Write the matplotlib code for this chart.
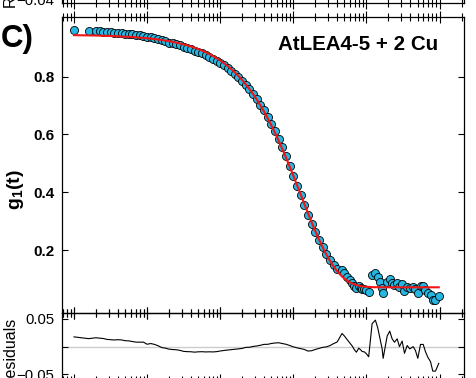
import matplotlib
matplotlib.use('Agg')
import matplotlib.pyplot as plt
import numpy as np
from matplotlib.ticker import LogLocator, NullFormatter

plt.rcParams['font.family'] = ['Liberation Sans', 'DejaVu Sans']
plt.rcParams['mathtext.fontset'] = 'custom'
plt.rcParams['mathtext.rm'] = 'Liberation Sans'
plt.rcParams['mathtext.bf'] = 'Liberation Sans:bold'

# ---------------- data ----------------
lag_time = [1.0, 1.585, 1.995, 2.239, 2.512, 2.818, 3.162, 3.548, 3.981, 4.467,
            5.012, 5.623, 6.310, 7.079, 7.943, 8.913, 10.0, 11.22, 12.59, 14.13,
            15.85, 17.78, 19.95, 22.39, 25.12, 28.18, 31.62, 35.48, 39.81, 44.67,
            50.12, 56.23, 63.10, 70.79, 79.43, 89.13, 100.0, 112.2, 125.9, 141.3,
            158.5, 177.8, 199.5, 223.9, 251.2, 281.8, 316.2, 354.8, 398.1, 446.7,
            501.2, 562.3, 631.0, 707.9, 794.3, 891.3, 1000, 1122, 1259, 1413,
            1585, 1778, 1995, 2239, 2512, 2818, 3162, 3548, 3981,
            4645, 5012, 5445, 5888, 6368, 6839, 7295, 7852, 8318, 8730, 9397, 10000,
            10740, 11970, 13270, 14290, 15210, 16410, 16940, 19230, 20840, 22490,
            24210, 26360, 28310, 30830, 33190, 36140, 39170, 43650, 46880, 50470,
            54950, 59840, 64270, 69180, 75340, 80910, 88100, 97720]

g1_data = [0.961, 0.957, 0.958, 0.957, 0.956, 0.954, 0.953, 0.952, 0.952, 0.951,
           0.949, 0.948, 0.946, 0.944, 0.943, 0.942, 0.937, 0.937, 0.934, 0.930,
           0.925, 0.922, 0.918, 0.915, 0.912, 0.908, 0.903, 0.899, 0.895, 0.890,
           0.886, 0.881, 0.875, 0.869, 0.862, 0.855, 0.848, 0.840, 0.831, 0.821,
           0.810, 0.798, 0.785, 0.772, 0.756, 0.740, 0.722, 0.703, 0.683, 0.660,
           0.637, 0.612, 0.585, 0.555, 0.524, 0.491, 0.457, 0.423, 0.389, 0.355,
           0.320, 0.289, 0.261, 0.234, 0.209, 0.185, 0.165, 0.149, 0.135,
           0.132, 0.120, 0.107, 0.096, 0.086, 0.076, 0.069, 0.074, 0.070, 0.066, 0.064, 0.060,
           0.054, 0.113, 0.119, 0.105, 0.088, 0.067, 0.050, 0.090, 0.099, 0.085,
           0.079, 0.085, 0.071, 0.081, 0.059, 0.073, 0.067, 0.071, 0.064, 0.050,
           0.075, 0.075, 0.062, 0.052, 0.044, 0.027, 0.027, 0.041]

g1_fit = [0.9434, 0.9426, 0.9420, 0.9417, 0.9413, 0.9409, 0.9405, 0.9400, 0.9395, 0.9389,
          0.9383, 0.9376, 0.9368, 0.9359, 0.9349, 0.9339, 0.9327, 0.9314, 0.9299, 0.9284,
          0.9266, 0.9247, 0.9225, 0.9202, 0.9176, 0.9147, 0.9115, 0.9080, 0.9042, 0.8999,
          0.8953, 0.8901, 0.8845, 0.8783, 0.8715, 0.8640, 0.8558, 0.8469, 0.8371, 0.8264,
          0.8147, 0.8020, 0.7882, 0.7733, 0.7571, 0.7396, 0.7208, 0.7005, 0.6789, 0.6558,
          0.6313, 0.6054, 0.5780, 0.5494, 0.5197, 0.4889, 0.4573, 0.4251, 0.3925, 0.3600,
          0.3279, 0.2964, 0.2661, 0.2372, 0.2103, 0.1855, 0.1632, 0.1436, 0.1266,
          0.1083, 0.1010, 0.0942, 0.0889, 0.0845, 0.0814, 0.0790, 0.0768, 0.0755, 0.0746, 0.0735, 0.0728,
          0.0722, 0.0716, 0.0713, 0.0712, 0.0711, 0.0710, 0.0710, 0.0710, 0.0710, 0.0710,
          0.0710, 0.0710, 0.0710, 0.0710, 0.0710, 0.0710, 0.0710, 0.0710, 0.0710, 0.0710,
          0.0710, 0.0710, 0.0710, 0.0710, 0.0710, 0.0710, 0.0710, 0.0710]

main_yticks = [0.2, 0.4, 0.6, 0.8]
main_ylabels = ['0.2', '0.4', '0.6', '0.8']
res_yticks = [-0.05, 0.0, 0.05]
res_ylabels = ['\u22120.05', '', '0.05']
panel_label = 'C)'
sample_label = 'AtLEA4-5 + 2 Cu'

t = np.array(lag_time)
g = np.array(g1_data)
f = np.array(g1_fit)
resid = g - f

# ---------------- layout ----------------
W, H = 476, 378
fig = plt.figure(figsize=(W / 100, H / 100), dpi=100)


def box(l, tp, r, b):
    return [l / W, 1 - b / H, (r - l) / W, (b - tp) / H]


ax0 = fig.add_axes(box(62, -60, 464, 3.3))
ax = fig.add_axes(box(62, 16.7, 464, 313.3))
axr = fig.add_axes(box(62, 313.3, 464, 380))

xlim = (10 ** -0.164, 10 ** 5.335)
for a in (ax0, ax, axr):
    a.set_xscale('log')
    a.set_xlim(*xlim)
    a.xaxis.set_major_locator(LogLocator(base=10, numticks=20))
    a.xaxis.set_minor_locator(LogLocator(base=10, subs=np.arange(2, 10), numticks=20))
    a.xaxis.set_major_formatter(NullFormatter())
    a.xaxis.set_minor_formatter(NullFormatter())
    a.tick_params(axis='x', which='both', direction='inout', top=True, bottom=True,
                  labelbottom=False, width=0.8, color='black')
    a.tick_params(axis='x', which='major', length=8.5)
    a.tick_params(axis='x', which='minor', length=6)
    a.tick_params(axis='y', which='both', direction='in', left=True, right=True,
                  length=4.5, width=0.8, pad=5.5)
    for s in a.spines.values():
        s.set_linewidth(0.9)
        s.set_color('black')
    a.set_facecolor('none')

# main panel
ax.plot(t, g, 'o', ms=5.8, mfc='#27b5e1', mec='black', mew=0.6, zorder=2, clip_on=False)
ax.plot(t, f, color='#f01414', lw=1.5, zorder=3)
ax.set_ylim(-0.019, 1.0073)
ax.set_yticks(main_yticks)
ax.set_yticklabels(main_ylabels, fontsize=11, fontweight='bold')
ax.yaxis.set_minor_locator(matplotlib.ticker.NullLocator())

# residual panel
axr.axhline(0, color='#cccccc', lw=1.0, zorder=1)
axr.plot(t, resid, color='black', lw=0.8, zorder=2)
axr.set_ylim(-0.06, 0.06)
axr.set_yticks(res_yticks)
axr.set_yticklabels(res_ylabels, fontsize=10.7)

# previous panel's residual axis (cut off at the top)
ax0.set_ylim(-0.046, 0.05)
ax0.set_yticks([-0.04])
ax0.set_yticklabels(['\u22120.04'], fontsize=10.7)

# texts
fig.text(0.5 / W, 1 - 46.7 / H, panel_label, fontsize=22.5, fontweight='bold',
         ha='left', va='baseline')
fig.text(278 / W, 1 - 49.5 / H, sample_label, fontsize=14.8, fontweight='bold',
         ha='left', va='baseline')
fig.text(15 / W, 1 - 190 / H, r'$\mathbf{g_1(t)}$', rotation=90, fontsize=14,
         ha='center', va='center')
fig.text(10 / W, 1 - 352 / H, 'Residuals', rotation=90, fontsize=11.5,
         ha='center', va='center')
fig.text(10 / W, 1 + 28 / H, 'Residuals', rotation=90, fontsize=11.5,
         ha='center', va='center')

fig.savefig('out.png', dpi=100)
